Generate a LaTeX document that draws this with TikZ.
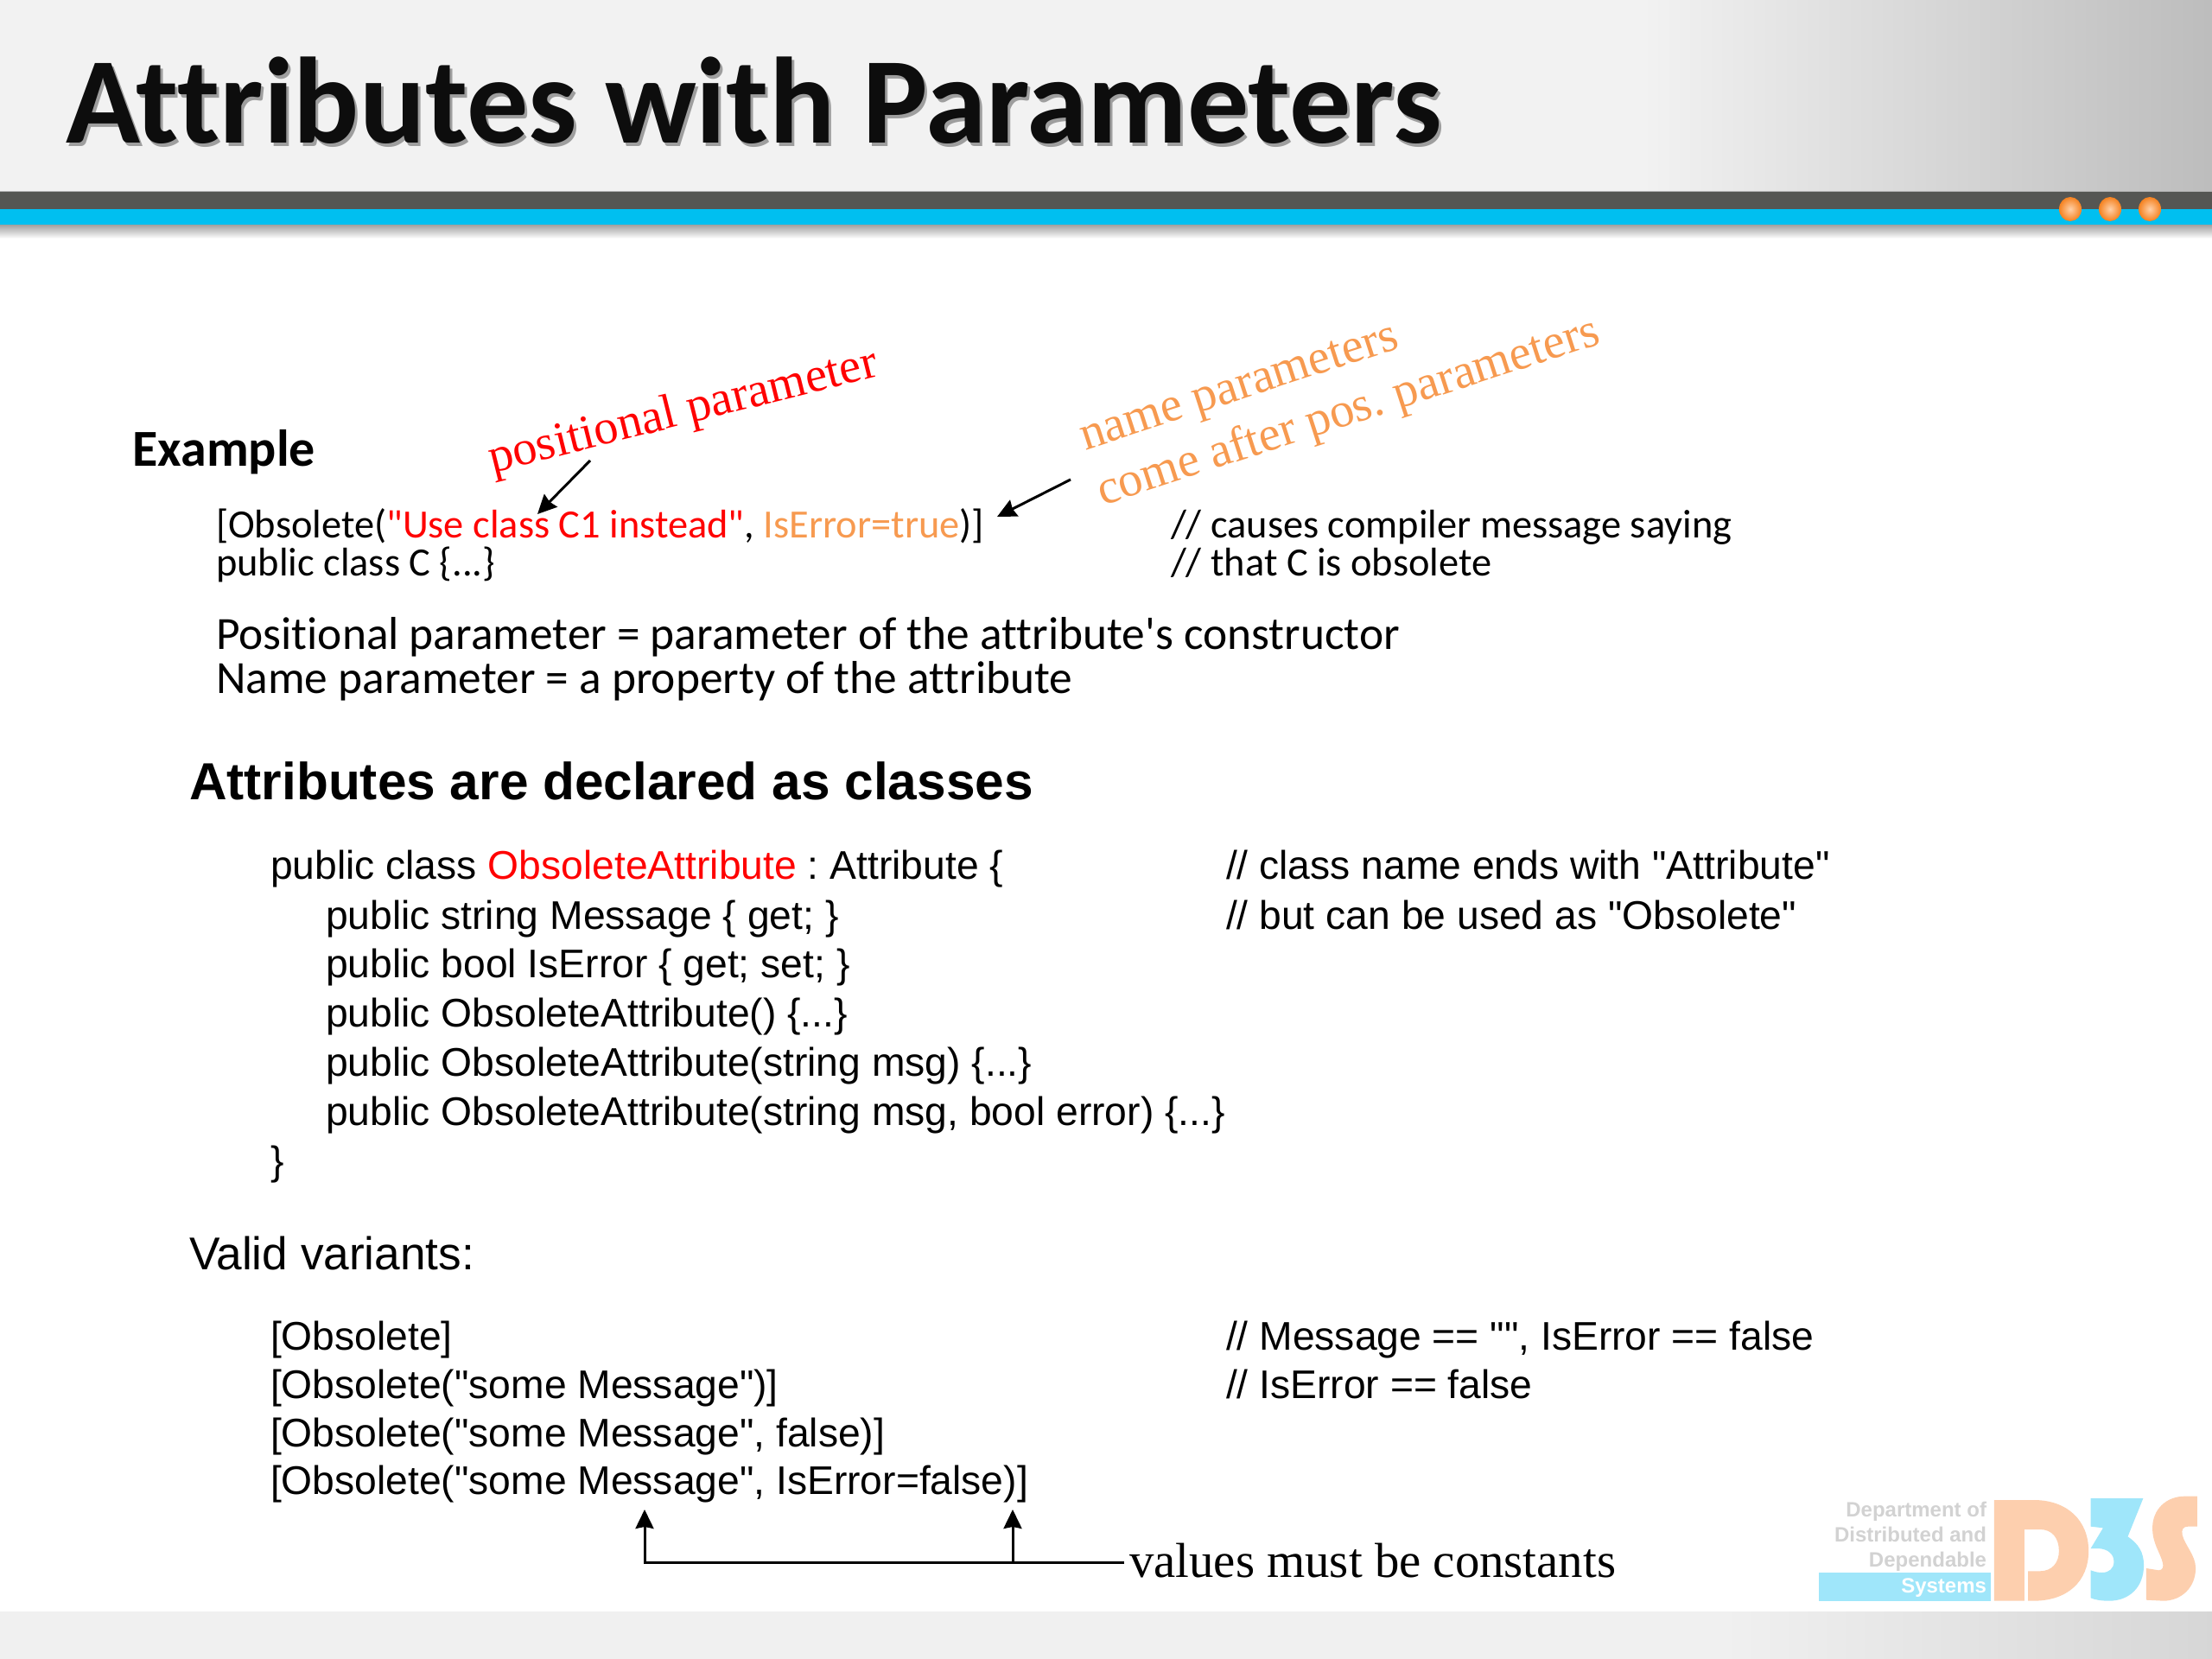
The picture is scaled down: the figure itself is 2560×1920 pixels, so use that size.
\documentclass[tikz,border=0pt]{standalone}
\usepackage{fontspec}
\usetikzlibrary{arrows.meta,shadings}
\newfontfamily\fcal[Ligatures=NoCommon]{Carlito}
\newfontfamily\farial{Liberation Sans}
\newfontfamily\fserif{Liberation Serif}
\frenchspacing
\definecolor{bandgray}{HTML}{F2F2F2}
\definecolor{banddark}{HTML}{555653}
\definecolor{bandblue}{HTML}{00BFF0}
\definecolor{noteorange}{HTML}{F79A50}
\definecolor{peach}{HTML}{FDCFAE}
\definecolor{skyb}{HTML}{9FE6FA}
\definecolor{logogray}{HTML}{D2D2D2}
\definecolor{dotout}{HTML}{F58220}
\definecolor{dotin}{HTML}{FFD0A8}
\tikzset{
  txt/.style={inner sep=0pt,outer sep=0pt,anchor=base west},
  titletxt/.style={txt,font=\fcal\bfseries\fontsize{71}{75}\selectfont},
  examplehead/.style={txt,font=\fcal\bfseries\fontsize{30}{33}\selectfont},
  calcode/.style={txt,font=\fcal\fontsize{23.2}{26}\selectfont},
  calbody/.style={txt,font=\fcal\fontsize{26.7}{30}\selectfont},
  arhead/.style={txt,font=\farial\bfseries\fontsize{30.2}{33}\selectfont},
  arbody/.style={txt,font=\farial\fontsize{26.6}{30}\selectfont},
  arcode/.style={txt,font=\farial\fontsize{23.12}{26}\selectfont},
  hand/.style={txt,font=\fserif\fontsize{28.2}{32}\selectfont},
  logotxt/.style={inner sep=0pt,outer sep=0pt,anchor=base east,font=\farial\bfseries\fontsize{12}{14}\selectfont},
  arr/.style={line width=1.5pt,-{Stealth[length=11pt,width=10.5pt,inset=1pt]}},
}
\begin{document}
\begin{tikzpicture}[x=0.5pt,y=-0.5pt]
\useasboundingbox (0,0) rectangle (2560,1920);
\fill[white] (0,0) rectangle (2560,1920);
% header
\fill[bandgray] (0,0) rectangle (1901,222);
\shade[left color=bandgray,right color=black!26] (1900,0) rectangle (2560,222);
\fill[black!30] (0,221) rectangle (2560,223);
\fill[banddark] (0,222) rectangle (2560,242);
\fill[bandblue] (0,242) rectangle (2560,261);
\shade[top color=black!35,bottom color=white] (0,261) rectangle (2560,276);
% dots
\foreach \cx in {2396,2442,2488}{
  \shade[inner color=dotin,outer color=dotout] (\cx,242) ellipse [x radius=13,y radius=14];
}
% footer
\fill[black!6] (0,1865) rectangle (2000,1920);
\shade[left color=black!6,right color=black!16] (1999,1865) rectangle (2560,1920);
% title
\node[titletxt,text=black!38] at (79,170) {Attributes with Parameters};
\node[titletxt,text=black!95] (title) at (76,166) {Attributes with Parameters};
% example
\node[examplehead] (example) at (153.5,539) {Example};
\node[calcode] (obs) at (250,622) {[Obsolete(\textcolor{red}{"Use class C1 instead"}, \textcolor{noteorange}{IsError=true})]};
\node[calcode] (pubc) at (250,666) {public class C \{...\}};
\node[calcode] (cm1) at (1355,622) {// causes compiler message saying};
\node[calcode] (cm2) at (1355,666) {// that C is obsolete};
\node[calbody] (pos) at (250,751) {Positional parameter = parameter of the attribute's constructor};
\node[calbody] (nam) at (250,802) {Name parameter = a property of the attribute};
% rotated notes
\node[hand,text=red,rotate=14] (posnote) at (570,547) {positional parameter};
\node[hand,text=noteorange,rotate=18] (namnote) at (1256,521) {name parameters};
\node[hand,text=noteorange,rotate=18] (comnote) at (1276,585) {come after pos. parameters};
\coordinate (a1s) at (683,533); \coordinate (a1e) at (622,595);
\coordinate (a2s) at (1239,555); \coordinate (a2e) at (1154,598);
\draw[arr] (a1s) -- (a1e);
\draw[arr] (a2s) -- (a2e);
% declared
\node[arhead] (decl) at (219,925) {Attributes are declared as classes};
\node[arcode] (l1) at (313,1017) {public class \textcolor{red}{ObsoleteAttribute} : Attribute \{};
\node[arcode] (l2) at (377,1075) {public string Message \{ get; \}};
\node[arcode] (l3) at (377,1131) {public bool IsError \{ get; set; \}};
\node[arcode] (l4) at (377,1188) {public ObsoleteAttribute() \{...\}};
\node[arcode] (l5) at (377,1245.5) {public ObsoleteAttribute(string msg) \{...\}};
\node[arcode] (l6) at (377,1302.5) {public ObsoleteAttribute(string msg, bool error) \{...\}};
\node[arcode] (l7) at (313,1359.5) {\}};
\node[arcode] (c1) at (1419,1017) {// class name ends with "Attribute"};
\node[arcode] (c2) at (1419,1075) {// but can be used as "Obsolete"};
% variants
\node[arbody] (valid) at (219,1469) {Valid variants:};
\node[arcode] (v1) at (313,1562) {[Obsolete]};
\node[arcode] (v2) at (313,1618) {[Obsolete("some Message")]};
\node[arcode] (v3) at (313,1674) {[Obsolete("some Message", false)]};
\node[arcode] (v4) at (313,1729) {[Obsolete("some Message", IsError=false)]};
\node[arcode] (vc1) at (1419,1562) {// Message == "", IsError == false};
\node[arcode] (vc2) at (1419,1618) {// IsError == false};
\node[txt,font=\fserif\fontsize{28.4}{32}\selectfont] (must) at (1307,1825) {values must be constants};
\coordinate (mustend) at (1301,1808);
\coordinate (junc) at (1172,1808);
\coordinate (tipa) at (746,1747);
\coordinate (tipb) at (1172,1747);
\draw[arr] (mustend) -| (tipa);
\draw[arr] (junc) -- (tipb);
% logo
\fill[skyb] (2105,1820) rectangle (2304,1853);
\node[logotxt,text=logogray] (lg1) at (2299,1755) {Department of};
\node[logotxt,text=logogray] (lg2) at (2299,1784) {Distributed and};
\node[logotxt,text=logogray] (lg3) at (2299,1813) {Dependable};
\node[logotxt,text=white] (lg4) at (2299,1843) {Systems};
\begin{scope}[shift={(2000,1700)},x=0.17857pt,y=-0.16667pt]
  % D
  \fill[peach,even odd rule] (862,108) -- (990,108) .. controls (1100,108) and (1168,180) .. (1168,285) .. controls (1168,390) and (1100,458) .. (990,458) -- (972,458) -- (972,355) -- (1010,355) .. controls (1050,355) and (1072,325) .. (1072,285) .. controls (1072,240) and (1050,210) .. (1010,210) -- (960,210) -- (960,458) -- (862,458) -- cycle;
  % 3
  \fill[skyb] (1175,102) -- (1345,102) -- (1295,235) .. controls (1330,260) and (1347,290) .. (1347,335) .. controls (1347,410) and (1300,458) .. (1235,458) .. controls (1210,458) and (1190,455) .. (1175,448) -- (1175,352) .. controls (1190,358) and (1200,360) .. (1212,360) .. controls (1235,360) and (1250,345) .. (1250,322) .. controls (1250,295) and (1230,278) .. (1200,276) -- (1175,276) -- (1215,205) -- (1175,200) -- cycle;
  % S
  \fill[peach] (1520,95) -- (1520,200) -- (1490,200) .. controls (1475,200) and (1468,210) .. (1472,230) .. controls (1480,265) and (1515,300) .. (1515,345) .. controls (1515,410) and (1470,458) .. (1410,458) -- (1355,455) -- (1355,345) -- (1395,352) .. controls (1408,352) and (1412,340) .. (1408,325) .. controls (1400,290) and (1375,260) .. (1375,205) .. controls (1375,140) and (1420,95) .. (1480,95) -- cycle;
\end{scope}
\end{tikzpicture}
\end{document}
